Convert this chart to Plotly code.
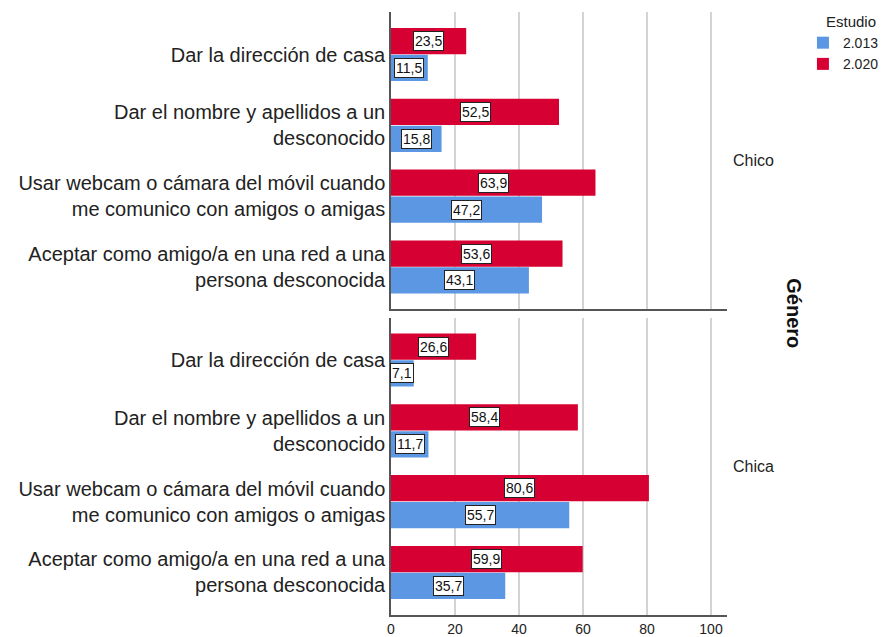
import plotly.graph_objects as go
from plotly.subplots import make_subplots

# Categories (shared by both panels)
categories = [
    "Dar la dirección de casa",
    "Dar el nombre y apellidos a un<br>desconocido",
    "Usar webcam o cámara del móvil cuando<br>me comunico con amigos o amigas",
    "Aceptar como amigo/a en una red a una<br>persona desconocida",
]

panels = ["Chico", "Chica"]
series_names = ["2.013", "2.020"]

chico_2013 = [11.5, 15.8, 47.2, 43.1]
chico_2020 = [23.5, 52.5, 63.9, 53.6]
chica_2013 = [7.1, 11.7, 55.7, 35.7]
chica_2020 = [26.6, 58.4, 80.6, 59.9]

x_ticks = [0, 20, 40, 60, 80, 100]

BLUE = "#5b97e3"
RED = "#d70032"
FONT = "Liberation Sans, Arial, sans-serif"
TEXT = "#222222"

panel_data = [
    {"2.013": chico_2013, "2.020": chico_2020},
    {"2.013": chica_2013, "2.020": chica_2020},
]
colors = {"2.013": BLUE, "2.020": RED}
# 2.020 sits above 2.013 inside each category group
offsets = {"2.013": 0.19, "2.020": -0.19}
bar_width = 0.37

fig = make_subplots(rows=2, cols=1, shared_xaxes=True, vertical_spacing=0.0133)

annotations = []
for row, data in enumerate(panel_data, start=1):
    for name in series_names:
        vals = data[name]
        ypos = [i + offsets[name] for i in range(len(categories))]
        fig.add_trace(
            go.Bar(
                orientation="h",
                x=vals,
                y=ypos,
                width=bar_width,
                marker=dict(color=colors[name], line=dict(width=0)),
                name=name,
                legendgroup=name,
                showlegend=(row == 1),
                hoverinfo="x",
            ),
            row=row,
            col=1,
        )
        axis_suffix = "" if row == 1 else str(row)
        for v, y in zip(vals, ypos):
            annotations.append(
                dict(
                    x=v / 2,
                    y=y,
                    xref="x" + axis_suffix,
                    yref="y" + axis_suffix,
                    text=f"{v:.1f}".replace(".", ","),
                    showarrow=False,
                    font=dict(size=14, color="#111111", family=FONT),
                    bgcolor="white",
                    bordercolor="#222222",
                    borderwidth=1,
                    borderpad=1,
                )
            )

# Panel strip labels, facet title and legend heading
panel_centers = [0.753, 0.246]
for label, yc in zip(panels, panel_centers):
    annotations.append(
        dict(
            x=1.012, y=yc, xref="paper", yref="paper",
            xanchor="left", yanchor="middle",
            text=label, showarrow=False,
            font=dict(size=16, color=TEXT, family=FONT),
        )
    )
annotations.append(
    dict(
        x=1.2, y=0.5, xref="paper", yref="paper",
        xanchor="center", yanchor="middle",
        text="<b>Género</b>", textangle=90, showarrow=False,
        font=dict(size=20, color="#111111", family=FONT),
    )
)
annotations.append(
    dict(
        x=1.29, y=0.985, xref="paper", yref="paper",
        xanchor="left", yanchor="middle",
        text="Estudio", showarrow=False,
        font=dict(size=15, color=TEXT, family=FONT),
    )
)

axis_common = dict(
    range=[0, 105],
    tickvals=x_ticks,
    showgrid=True,
    gridcolor="#d3d3d3",
    gridwidth=2,
    zeroline=False,
    showline=True,
    linecolor="#555555",
    linewidth=1.5,
    ticks="",
    automargin=False,
    tickfont=dict(size=14, color=TEXT, family=FONT),
)
fig.update_xaxes(**axis_common)
fig.update_xaxes(showticklabels=False, row=1, col=1)
fig.update_xaxes(showticklabels=True, row=2, col=1)

fig.update_yaxes(
    range=[3.6, -0.6],
    tickvals=list(range(len(categories))),
    ticktext=categories,
    showgrid=False,
    zeroline=False,
    showline=True,
    linecolor="#555555",
    linewidth=1.5,
    ticks="",
    automargin=False,
    tickfont=dict(size=20, color=TEXT, family=FONT),
)

fig.update_layout(
    width=888,
    height=637,
    margin=dict(l=391, r=161, t=12, b=22, autoexpand=False),
    plot_bgcolor="white",
    paper_bgcolor="white",
    barmode="overlay",
    font=dict(family=FONT, color=TEXT),
    annotations=annotations,
    legend=dict(
        x=1.226, y=0.975, xanchor="left", yanchor="top",
        font=dict(size=14, family=FONT, color=TEXT),
        traceorder="normal",
        itemwidth=30,
        tracegroupgap=0,
    ),
)

fig.write_html("out.html")
